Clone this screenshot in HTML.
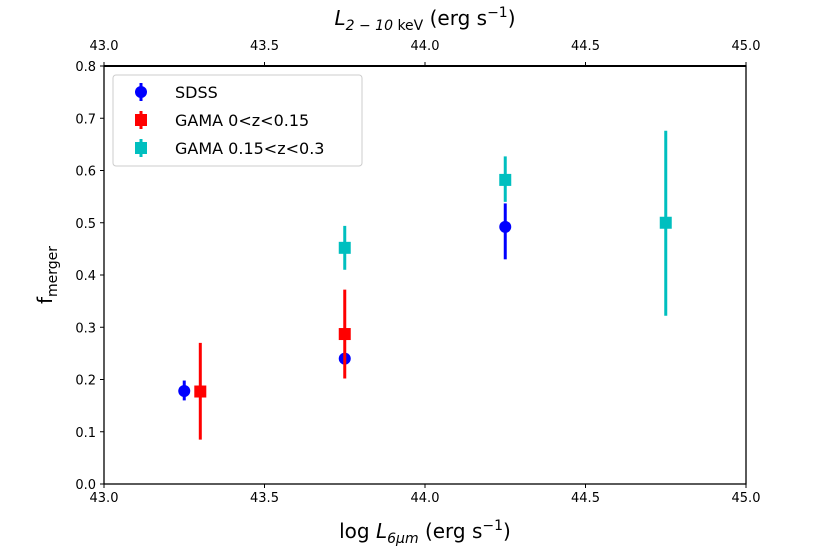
<!DOCTYPE html>
<html><head><meta charset="utf-8"><style>
body{margin:0;background:#fff;}
svg text{font-family:"DejaVu Sans","Liberation Sans",sans-serif;fill:#000;}
</style></head><body>
<svg id="c" width="830" height="554" xmlns="http://www.w3.org/2000/svg">
<g id="marks"></g>
<rect x="104" y="66" width="642" height="418" fill="none" stroke="#000" stroke-width="1.3"/>
<line x1="104" y1="66" x2="746" y2="66" stroke="#000" stroke-width="2"/>
<g id="axes"></g>
<text x="425" y="538" font-size="20" text-anchor="middle">log <tspan font-style="italic">L</tspan><tspan font-size="14" dy="5" font-style="italic">6μm</tspan><tspan dy="-5"> (erg s</tspan><tspan font-size="14" dy="-8">−1</tspan><tspan dy="8">)</tspan></text>
<text x="425" y="25" font-size="20" text-anchor="middle"><tspan font-style="italic">L</tspan><tspan font-size="14" dy="5"><tspan font-style="italic">2 − 10</tspan> keV</tspan><tspan dy="-5"> (erg s</tspan><tspan font-size="14" dy="-8">−1</tspan><tspan dy="8">)</tspan></text>
<text transform="translate(52,275) rotate(-90)" font-size="20" text-anchor="middle">f<tspan font-size="14" dy="5">merger</tspan></text>
<g>
<rect x="113" y="75" width="249" height="91" rx="3" fill="#fff" fill-opacity="0.8" stroke="#ccc"/>
<g id="leg"></g>
</g>
</svg>
<script>
const xTicks=[43.0,43.5,44.0,44.5,45.0];
const yTicks=[0.0,0.1,0.2,0.3,0.4,0.5,0.6,0.7,0.8];
const sdssX=[43.25,43.75,44.25];
const sdssY=[0.178,0.240,0.492];
const sdssLo=[0.160,0.230,0.430];
const sdssHi=[0.198,0.250,0.537];
const gLowX=[43.30,43.75];
const gLowY=[0.177,0.287];
const gLowLo=[0.085,0.202];
const gLowHi=[0.270,0.372];
const gHighX=[43.75,44.25,44.75];
const gHighY=[0.452,0.582,0.500];
const gHighLo=[0.410,0.540,0.322];
const gHighHi=[0.494,0.627,0.676];
const NS='http://www.w3.org/2000/svg';
const X=v=>104+(v-43)/2*642, Y=v=>484-v/0.8*418;
function mk(t,a,p){const e=document.createElementNS(NS,t);for(const k in a)e.setAttribute(k,a[k]);p.appendChild(e);return e;}
const ax=document.getElementById('axes');
xTicks.forEach(v=>{
 const l=mk('line',{x1:X(v),x2:X(v),y1:484,y2:488,stroke:'#000'},ax);
 
 
 const l2=mk('line',{x1:X(v),x2:X(v),y1:66,y2:62,stroke:'#000'},ax);
 
 
 const t=mk('text',{x:X(v),y:502,'font-size':13,'text-anchor':'middle'},ax);t.textContent=v.toFixed(1);
 
 
 const t2=mk('text',{x:X(v),y:50,'font-size':13,'text-anchor':'middle'},ax);t2.textContent=v.toFixed(1);
 
 
});
yTicks.forEach(v=>{
 const l=mk('line',{x1:100,x2:104,y1:Y(v),y2:Y(v),stroke:'#000'},ax);
 
 
 const t=mk('text',{x:96,y:Y(v)+5,'font-size':13,'text-anchor':'end'},ax);t.textContent=v.toFixed(1);
 
 
});
const m=document.getElementById('marks');
function series(xs,ys,lo,hi,col,shape,name){
 xs.forEach((x,i)=>{
  const e=mk('line',{x1:X(x),x2:X(x),y1:Y(lo[i]),y2:Y(hi[i]),stroke:col,'stroke-width':3},m);
  
  
  let p;
  if(shape==='c')p=mk('circle',{cx:X(x),cy:Y(ys[i]),r:6,fill:col},m);
  else p=mk('rect',{x:X(x)-6,y:Y(ys[i])-6,width:12,height:12,fill:col},m);
  
  
 });
}
series(sdssX,sdssY,sdssLo,sdssHi,'#0000ff','c','sdss');
series(gLowX,gLowY,gLowLo,gLowHi,'#ff0000','s','gama-low-z');
series(gHighX,gHighY,gHighLo,gHighHi,'#00bfbf','s','gama-high-z');
const lg=document.getElementById('leg');
[['SDSS','#0000ff','c'],['GAMA 0<z<0.15','#ff0000','s'],['GAMA 0.15<z<0.3','#00bfbf','s']].forEach((d,i)=>{
 const y=92+i*28;
 const g=mk('g',{},lg);
 
 
 mk('line',{x1:141,x2:141,y1:y-9,y2:y+9,stroke:d[1],'stroke-width':3},g);
 if(d[2]==='c')mk('circle',{cx:141,cy:y,r:6,fill:d[1]},g);
 else mk('rect',{x:135,y:y-6,width:12,height:12,fill:d[1]},g);
 const t=mk('text',{x:175,y:y+6,'font-size':16},g);t.textContent=d[0];
});
</script>
</body></html>
